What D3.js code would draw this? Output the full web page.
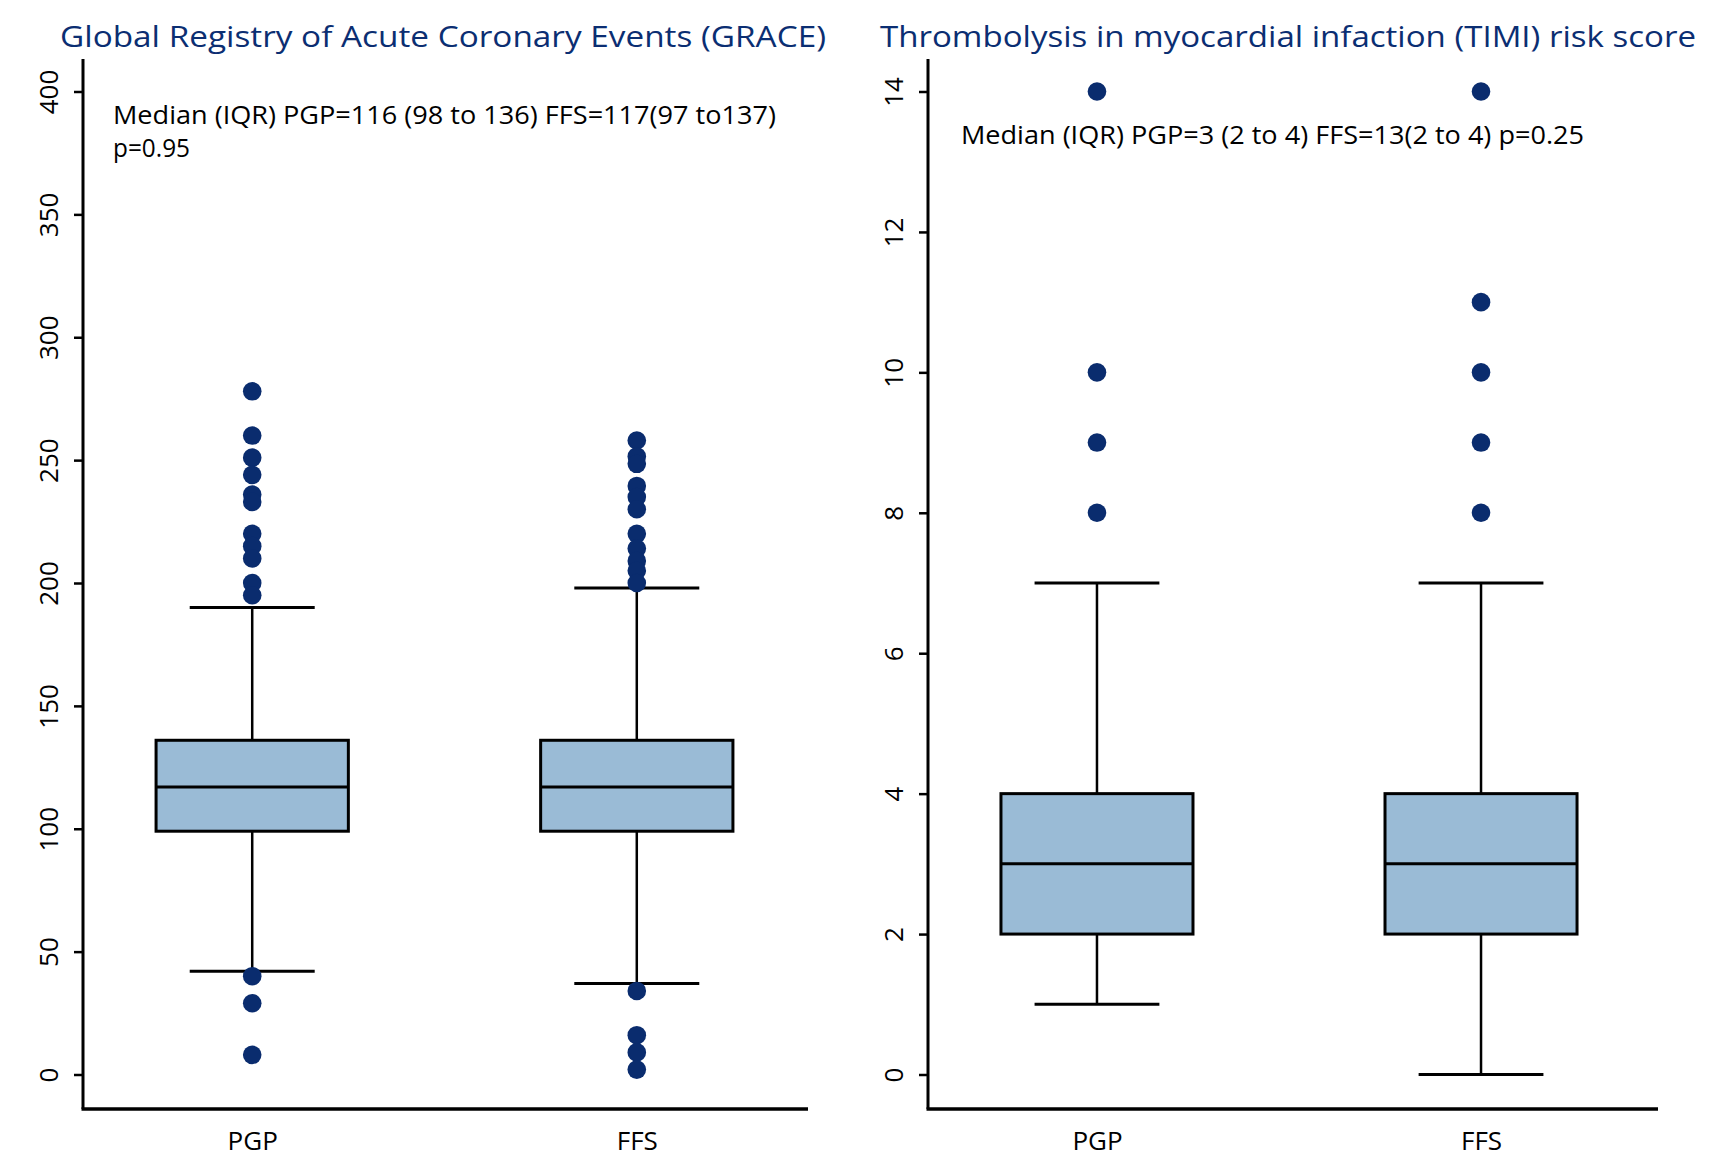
<!DOCTYPE html>
<html>
<head>
<meta charset="utf-8">
<script src="https://cdn.jsdelivr.net/npm/d3@7"></script>
<style>
  body { margin: 0; background: #fff; }
  svg { display: block; font-family: 'Open Sans', sans-serif; }
  text { font-family: 'Open Sans', sans-serif; }
  .title { fill: #0b2e72; font-size: 29px; }
  .note { fill: #000; font-size: 26px; }
  .tick text { font-size: 26px; fill: #000; }
  .x-label { font-size: 26px; fill: #000; }
</style>
</head>
<body>
<svg width="1716" height="1169"></svg>
<script>
const groups = ['PGP', 'FFS'];

// GRACE panel
const graceTicks = [0, 50, 100, 150, 200, 250, 300, 350, 400];
const graceQ1 = [99, 99];
const graceMedian = [117, 117];
const graceQ3 = [136, 136];
const graceLow = [42, 37];
const graceHigh = [190, 198];
const graceOutliers = [
  [278, 260, 251, 244, 236, 233, 220, 215, 210, 200, 195, 40, 29, 8],
  [258, 251.5, 248.5, 239.5, 235, 230, 220, 214, 209, 205, 200, 34, 16, 9, 2]
];

// TIMI panel
const timiTicks = [0, 2, 4, 6, 8, 10, 12, 14];
const timiQ1 = [2, 2];
const timiMedian = [3, 3];
const timiQ3 = [4, 4];
const timiLow = [1, 0];
const timiHigh = [7, 7];
const timiOutliers = [
  [14, 10, 9, 8],
  [14, 11, 10, 9, 8]
];

const svg = d3.select('svg');
const boxFill = '#9abbd6';
const dotFill = '#0a2c6e';

const yTop = 91.5, yBottom = 1074.5;
const axisTop = 59, axisBottom = 1109;

const drawPanel = p => {
  const xScale = d3.scalePoint()
    .domain(groups)
    .range([p.left, p.scaleRight])
    .padding(0.44);
  const yScale = d3.scaleLinear()
    .domain([0, d3.max(p.ticks)])
    .range([yBottom, yTop]);

  const step = xScale.step();
  const boxW = step * 0.5;
  const capW = step * 0.325;

  const g = svg.append('g');

  // title
  g.append('text')
    .attr('class', 'title')
    .attr('x', p.titleX)
    .attr('y', 46.5)
    .attr('textLength', p.titleW)
    .attr('lengthAdjust', 'spacingAndGlyphs')
    .text(p.title);

  // y axis
  const yAxis = d3.axisLeft(yScale)
    .tickValues(p.ticks)
    .tickSize(9)
    .tickSizeOuter(0);
  const yAxisG = g.append('g')
    .attr('transform', `translate(${p.left},0)`)
    .call(yAxis)
    .attr('font-family', null)
    .attr('font-size', null);
  yAxisG.select('.domain').remove();
  yAxisG.selectAll('.tick line')
    .attr('stroke', '#000')
    .attr('stroke-width', 2.5);
  yAxisG.selectAll('.tick text')
    .attr('transform', 'rotate(-90)')
    .attr('x', 0)
    .attr('y', -25)
    .attr('dy', 0)
    .attr('text-anchor', 'middle');
  g.append('line')
    .attr('x1', p.left).attr('x2', p.left)
    .attr('y1', axisTop).attr('y2', axisBottom)
    .attr('stroke', '#000')
    .attr('stroke-width', 3);

  // x axis
  const xAxis = d3.axisBottom(xScale).tickSize(0).tickSizeOuter(0);
  const xAxisG = g.append('g')
    .attr('transform', `translate(0,${axisBottom})`)
    .call(xAxis)
    .attr('font-family', null)
    .attr('font-size', null);
  xAxisG.select('.domain').remove();
  xAxisG.selectAll('.tick text')
    .attr('class', 'x-label')
    .attr('y', 41)
    .attr('dy', 0);
  g.append('line')
    .attr('x1', p.left - 1.5).attr('x2', p.right)
    .attr('y1', axisBottom).attr('y2', axisBottom)
    .attr('stroke', '#000')
    .attr('stroke-width', 3.5);

  const rows = groups.map((k, i) => ({
    key: k,
    q1: p.q1[i], median: p.median[i], q3: p.q3[i],
    low: p.low[i], high: p.high[i], out: p.outliers[i]
  }));

  const box = g.selectAll('.box').data(rows)
    .enter().append('g')
      .attr('class', 'box');

  // whiskers
  box.append('line')
    .attr('x1', d => xScale(d.key)).attr('x2', d => xScale(d.key))
    .attr('y1', d => yScale(d.high)).attr('y2', d => yScale(d.low))
    .attr('stroke', '#000')
    .attr('stroke-width', 2.5);
  box.selectAll('.cap').data(d => [d.low, d.high].map(v => ({ key: d.key, v })))
    .enter().append('line')
      .attr('class', 'cap')
      .attr('x1', d => xScale(d.key) - capW / 2)
      .attr('x2', d => xScale(d.key) + capW / 2)
      .attr('y1', d => yScale(d.v)).attr('y2', d => yScale(d.v))
      .attr('stroke', '#000')
      .attr('stroke-width', 3);

  // box
  box.append('rect')
    .attr('x', d => xScale(d.key) - boxW / 2)
    .attr('y', d => yScale(d.q3))
    .attr('width', boxW)
    .attr('height', d => yScale(d.q1) - yScale(d.q3))
    .attr('fill', boxFill)
    .attr('stroke', '#000')
    .attr('stroke-width', 3);
  box.append('line')
    .attr('x1', d => xScale(d.key) - boxW / 2)
    .attr('x2', d => xScale(d.key) + boxW / 2)
    .attr('y1', d => yScale(d.median)).attr('y2', d => yScale(d.median))
    .attr('stroke', '#000')
    .attr('stroke-width', 3);

  // outliers
  box.selectAll('circle').data(d => d.out.map(v => ({ key: d.key, v })))
    .enter().append('circle')
      .attr('cx', d => xScale(d.key))
      .attr('cy', d => yScale(d.v))
      .attr('r', 9.3)
      .attr('fill', dotFill);

  // annotation
  p.note.forEach((line, i) => {
    g.append('text')
      .attr('class', 'note')
      .attr('x', p.noteX)
      .attr('y', p.noteY + i * 33)
      .attr('textLength', line.w)
      .attr('lengthAdjust', 'spacingAndGlyphs')
      .text(line.t);
  });
};

drawPanel({
  left: 83, right: 808, scaleRight: 806,
  ticks: graceTicks,
  q1: graceQ1, median: graceMedian, q3: graceQ3,
  low: graceLow, high: graceHigh, outliers: graceOutliers,
  title: 'Global Registry of Acute Coronary Events (GRACE)',
  titleX: 60, titleW: 766,
  note: [
    { t: 'Median (IQR) PGP=116 (98 to 136) FFS=117(97 to137)', w: 663 },
    { t: 'p=0.95', w: 77 }
  ],
  noteX: 113, noteY: 124
});

drawPanel({
  left: 928, right: 1658, scaleRight: 1650,
  ticks: timiTicks,
  q1: timiQ1, median: timiMedian, q3: timiQ3,
  low: timiLow, high: timiHigh, outliers: timiOutliers,
  title: 'Thrombolysis in myocardial infaction (TIMI) risk score',
  titleX: 880, titleW: 816,
  note: [
    { t: 'Median (IQR) PGP=3 (2 to 4) FFS=13(2 to 4) p=0.25', w: 623 }
  ],
  noteX: 961, noteY: 144
});
</script>
</body>
</html>
